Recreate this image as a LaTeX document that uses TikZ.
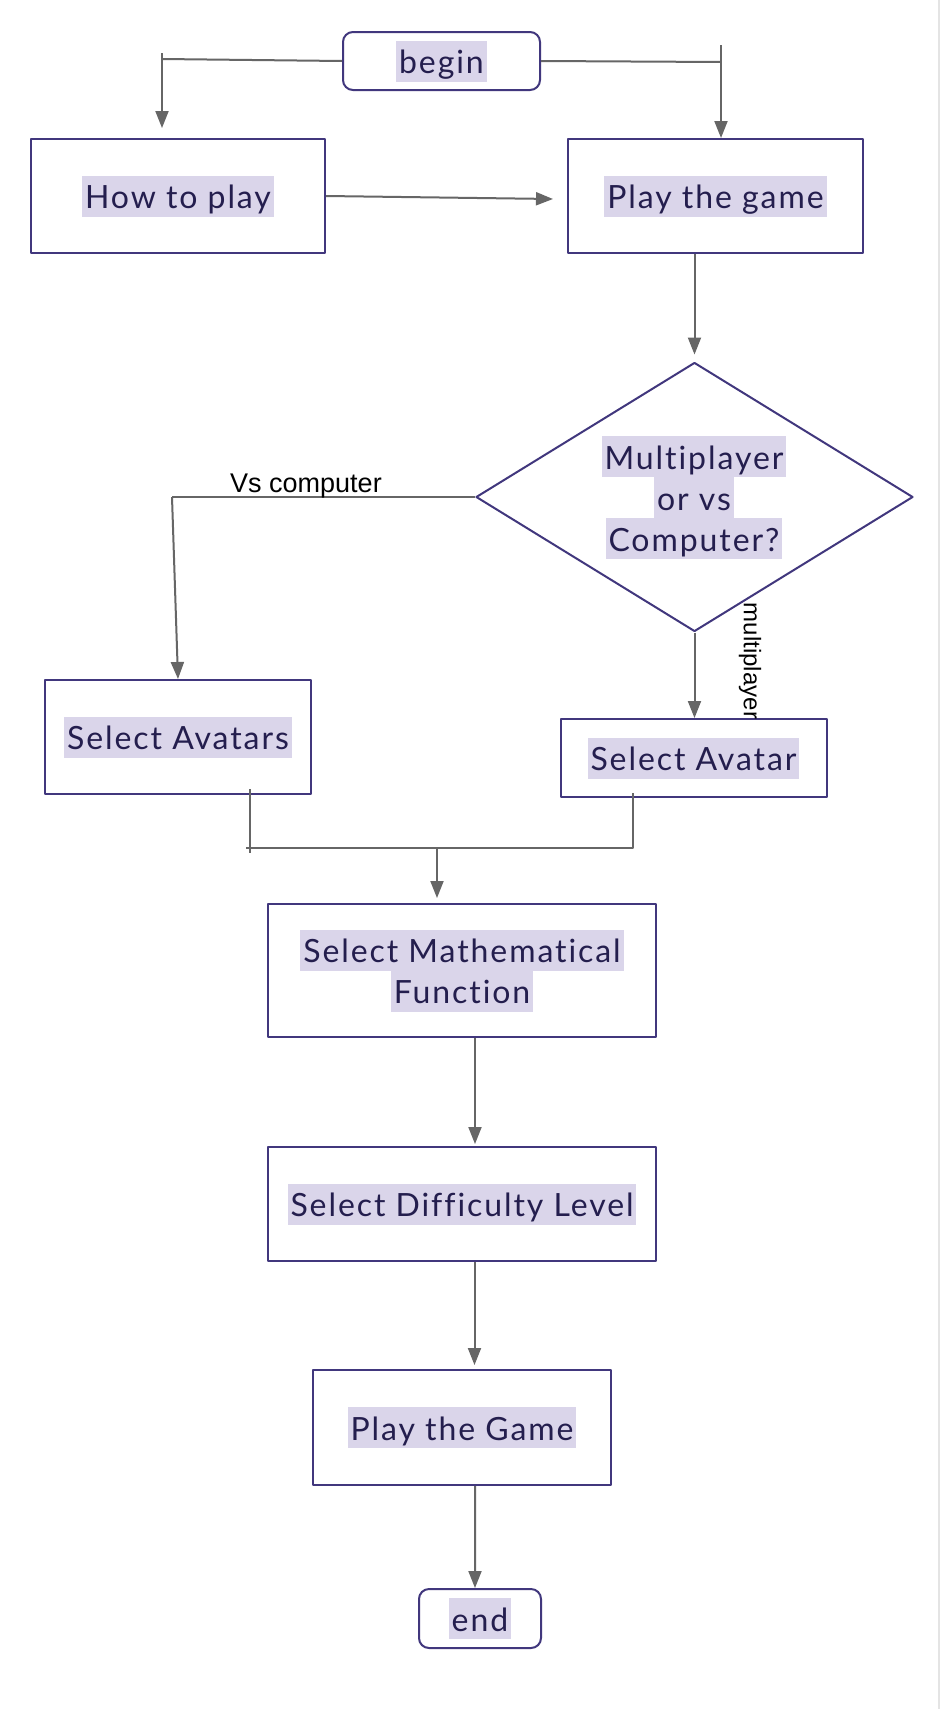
\documentclass[tikz,border=0pt]{standalone}
\usepackage{fontspec}
\usetikzlibrary{arrows.meta,shapes.geometric}
\newfontfamily\boxfont{Lato}[LetterSpace=6,Ligatures={NoCommon,NoRequired,NoContextual}]
\newfontfamily\lblfont{Liberation Sans}
\definecolor{bordc}{HTML}{41377D}
\definecolor{txtc}{HTML}{241E4E}
\definecolor{hlc}{HTML}{DAD5EA}
\definecolor{conc}{HTML}{666666}
\definecolor{edgec}{HTML}{E4E4E4}
\newcommand\hlt[1]{{\setlength{\fboxsep}{0pt}\colorbox{hlc}{\hspace{3bp}\rule[-8bp]{0pt}{41bp}#1\hspace{3bp}}}}
\tikzset{
  box/.style={draw=bordc, line width=2bp, rectangle, inner sep=0pt,
    font=\boxfont\fontsize{32bp}{41bp}\selectfont, text=txtc, align=center},
  term/.style={box, rounded corners=10bp},
  conn/.style={draw=conc, line width=2bp},
  arr/.style={conn, -{Triangle[length=17bp,width=13bp]}},
  lbl/.style={font=\lblfont\fontsize{27bp}{32bp}\selectfont, text=black, inner sep=0pt},
  lbltwo/.style={font=\lblfont\fontsize{24bp}{28bp}\selectfont, text=black, inner sep=0pt}
}
\begin{document}
\begin{tikzpicture}[x=1bp,y=-1bp,line join=round]
\fill[white] (0,0) rectangle (940,1709);
\useasboundingbox (0,0) rectangle (940,1709);
\draw[edgec, line width=1.5bp] (939,0) -- (939,1709);

% nodes
\node[term, minimum width=197bp, minimum height=58bp] (begin) at (441.5,61) {\hlt{begin}};
\node[box, minimum width=294bp, minimum height=114bp] (how) at (178,196) {\hlt{How to play}};
\node[box, minimum width=295bp, minimum height=114bp] (play) at (715.5,196) {\hlt{Play the game}};
\node[draw=bordc, line width=2bp, diamond, inner sep=0pt, minimum width=437bp, minimum height=269bp] (dec) at (694.5,497) {};
\node[font=\boxfont\fontsize{32bp}{41bp}\selectfont, text=txtc, align=center, inner sep=0pt] (dectext) at (694,497.5) {\hlt{Multiplayer}\\\hlt{or vs}\\\hlt{Computer?}};
\node[box, minimum width=266bp, minimum height=114bp] (selA) at (178,737) {\hlt{Select Avatars}};
\node[box, minimum width=266bp, minimum height=78bp] (selB) at (693.5,758) {\hlt{Select Avatar}};
\node[box, minimum width=388bp, minimum height=133bp] (math) at (462,970.5) {\hlt{Select Mathematical}\\\hlt{Function}};
\node[box, minimum width=388bp, minimum height=114bp] (diff) at (462,1204) {\hlt{Select Difficulty Level}};
\node[box, minimum width=298bp, minimum height=115bp] (game) at (462,1427.5) {\hlt{Play the Game}};
\node[term, minimum width=122bp, minimum height=59bp] (end) at (480,1618.5) {\hlt{end}};

% begin -> how to play
\coordinate (bl) at (162,59);
\coordinate (blt) at (162,53);
\coordinate (blb) at (162,128);
\draw[conn] (begin.west) -- (bl);
\draw[arr] (blt) -- (blb);
% begin -> play the game
\coordinate (br) at (721,62);
\coordinate (brt) at (721,45);
\draw[conn] (begin.east) -- (br);
\draw[arr] (brt) -- (brt |- play.north);
% how -> play
\coordinate (hp) at (553,199);
\draw[arr] (how.east) -- (hp);
% play -> decision
\draw[arr] (play.south -| dec.north) -- ([yshift=7bp]dec.north);
% decision -> select avatars
\coordinate (vc) at (172,497);
\draw[conn] (dec.west) -- (vc);
\draw[arr] (vc) -- (selA.north);
\node[lbl, anchor=base] (vslbl) at (306,492) {Vs computer};
% decision -> select avatar
\draw[arr] (dec.south) -- (dec.south |- selB.north);
\node[lbltwo, rotate=-90] (mplbl) at (750,661) {multiplayer};
% merge
\coordinate (mA1) at (250,789);
\coordinate (mA2) at (250,853);
\coordinate (mH1) at (246,848);
\coordinate (mH2) at (633,848);
\coordinate (mB1) at (633,793);
\coordinate (mJ) at (437,848);
\coordinate (mT) at (437,898);
\draw[conn] (mA1) -- (mA2);
\draw[conn] (mB1) -- (mH2) -- (mH1);
\draw[arr] (mJ) -- (mT);
% chain
\draw[arr] ([xshift=13bp]math.south) -- ([xshift=13bp,yshift=2bp]diff.north);
\draw[arr] ([xshift=12.5bp]diff.south) -- ([xshift=12.5bp,yshift=4bp]game.north);
\draw[arr] ([xshift=13bp]game.south) -- ([xshift=-5bp]end.north);
\end{tikzpicture}
\end{document}
